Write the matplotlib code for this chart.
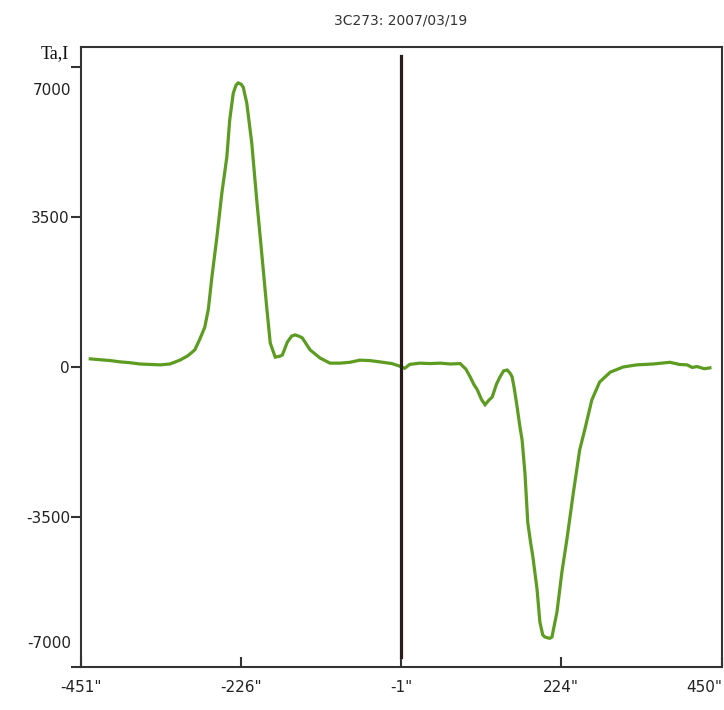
import matplotlib
matplotlib.use("Agg")
import matplotlib.pyplot as plt

# scan offsets (arcsec) and antenna temperature / intensity
offsets = [-438, -424, -410, -396, -382, -368, -354, -340, -326, -312, -301, -291,
           -284, -277, -272, -267, -260, -253, -246, -242, -237, -233, -230, -226,
           -223, -218, -211, -204, -197, -190, -185, -178, -172, -168, -161, -155,
           -150, -145, -140, -129, -115, -101, -87, -73, -59, -45, -31, -14, -3, 4,
           11, 25, 40, 54, 68, 82, 90, 96, 101, 106, 112, 117, 122, 127, 133, 138,
           143, 148, 152, 155, 158, 162, 166, 169, 173, 177, 181, 184, 190, 194,
           198, 201, 205, 208, 211, 214, 218, 225, 232, 241, 250, 257, 267, 278,
           293, 311, 330, 353, 377, 390, 401, 408, 415, 425, 433]
signal = [190, 170, 150, 120, 100, 70, 60, 50, 70, 160, 260, 400,
          650, 930, 1350, 2100, 3030, 4060, 4900, 5760, 6390, 6580, 6630, 6600,
          6530, 6160, 5230, 3900, 2660, 1400, 560, 230, 250, 280, 580, 720,
          750, 720, 680, 400, 210, 90, 90, 110, 160, 150, 120, 80, 20, -30,
          60, 90, 80, 90, 70, 80, -50, -230, -400, -530, -760, -880, -780, -700, -400, -230,
          -90, -70, -140, -230, -500, -930, -1400, -1700, -2470, -3630, -4100, -4410, -5180, -5950,
          -6250, -6300, -6320, -6330, -6300, -6050, -5720, -4780, -4020, -2940, -1930, -1470, -770, -350,
          -120, 0, 50, 70, 110, 60, 50, -10, 10, -40, -20]

xticks = [-451, -226, -1, 224, 450]
xlabels = ['-451"', '-226"', '-1"', '224"', '450"']
yticks = [-7000, -3500, 0, 3500, 7000]
ylabels = ['', '-3500', '0', '3500', '']

fig = plt.figure(figsize=(7.24, 7.10), dpi=100)
ax = fig.add_axes([81 / 724, 43 / 710, 641 / 724, 620 / 710])

ax.plot(offsets, signal, color='#5c9c20', lw=2.3, solid_joinstyle='miter')
# centre marker
ax.axvline(-1, ymin=0.016, ymax=0.985, color='#2b1c1c', lw=2.3)

ax.set_xlim(-451, 450)
ax.set_ylim(-7000, 7467)

ax.set_xticks(xticks)
ax.set_xticklabels(xlabels)
ax.set_yticks(yticks)
ax.set_yticklabels(ylabels)

for s in ax.spines.values():
    s.set_color('#333333')
    s.set_linewidth(1.5)

ax.tick_params(axis='x', direction='in', length=7, width=1.5, color='#333333',
               pad=9, labelsize=11, labelcolor='#222222')
ax.tick_params(axis='y', direction='out', length=7, width=1.5, color='#333333',
               pad=1, labelsize=11, labelcolor='#222222')

# last x label kept inside the figure
ax.get_xticklabels()[-1].set_horizontalalignment('right')
ax.get_xticklabels()[-1].set_x(452)

# end labels sit inside the axis range
ax.annotate('7000', xy=(0, 7000), xycoords=('axes fraction', 'data'),
            xytext=(-7, -17), textcoords='offset points', ha='right', va='center',
            fontsize=11, color='#222222')
ax.annotate('-7000', xy=(0, -7000), xycoords=('axes fraction', 'data'),
            xytext=(-7, 17), textcoords='offset points', ha='right', va='center',
            fontsize=11, color='#222222')
ax.annotate('Ta,I', xy=(0, 7000), xycoords=('axes fraction', 'data'),
            xytext=(-9, 10), textcoords='offset points', ha='right', va='center',
            fontsize=13, family='Liberation Serif', color='#111111')

fig.text(401 / 724, 1 - 20 / 710, '3C273: 2007/03/19', ha='center', va='center',
         fontsize=10, color='#333333')

fig.savefig('out.png', dpi=100, facecolor='white')
